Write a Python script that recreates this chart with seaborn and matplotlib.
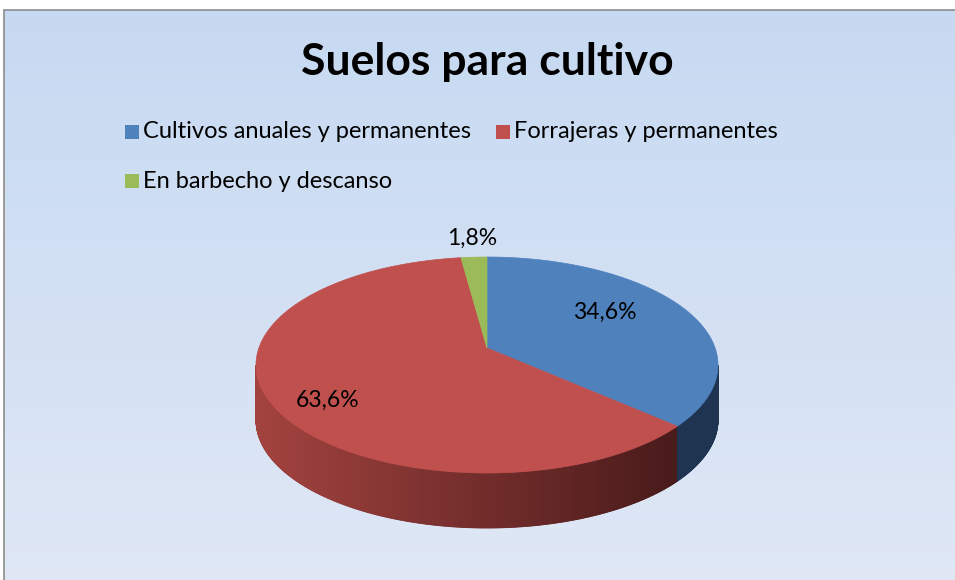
import numpy as np
import matplotlib
matplotlib.use("Agg")
import matplotlib.pyplot as plt
import seaborn as sns
from matplotlib.colors import to_rgb
from matplotlib.patches import Polygon, Rectangle

sns.set_style("white")
plt.rcParams['font.family'] = ['Lato', 'DejaVu Sans']
plt.rcParams['text.color'] = 'black'

# ---- data ----
categories = ["Cultivos anuales y permanentes", "Forrajeras y permanentes", "En barbecho y descanso"]
values = [34.6, 63.6, 1.8]
labels = ["34,6%", "63,6%", "1,8%"]
title = "Suelos para cultivo"

top_colors = ["#4f81bd", "#c0504d", "#9bbb59"]
side_left = ["#1e3450", "#a3433f", "#5f7a32"]
side_right = ["#1e3450", "#4a1b1b", "#3e5020"]

W, H = 955, 580
fig = plt.figure(figsize=(W / 100, H / 100), dpi=100)
fig.patch.set_facecolor("white")
ax = fig.add_axes([0, 0, 1, 1])
ax.set_xlim(0, W)
ax.set_ylim(H, 0)
ax.axis("off")

# background gradient as horizontal bands
c0 = np.array(to_rgb("#c6d9f1"))
c1 = np.array(to_rgb("#dfe7f5"))
ys = np.linspace(10, H + 2, 120)
for k in range(len(ys) - 1):
    f = k / (len(ys) - 2)
    col = c0 * (1 - f) + c1 * f
    ax.add_patch(Rectangle((4, ys[k]), W + 10, ys[k + 1] - ys[k] + 0.5,
                           facecolor=col, edgecolor="none", zorder=0))
ax.plot([4, 4], [10, H + 2], color="#8c8c8c", lw=1.2, zorder=1)
ax.plot([4, W + 2], [10, 10], color="#8c8c8c", lw=1.2, zorder=1)

# pie geometry
cx, cy, rx, ry, depth = 487, 365, 231, 108, 55
apex = (487, 348)

fr = np.array(values) / sum(values)
cum = np.concatenate([[0], np.cumsum(fr)])
starts = 90 - 360 * cum[:-1]
ends = 90 - 360 * cum[1:]

def pt(tdeg, dy=0):
    t = np.radians(tdeg)
    return cx + rx * np.cos(t), cy - ry * np.sin(t) + dy

def slice_of(tdeg):
    for i in range(len(values)):
        a, b = ends[i], starts[i]
        tt = tdeg
        while tt > b:
            tt -= 360
        while tt < a:
            tt += 360
        if a <= tt <= b:
            return i
    return 0

# side (front half: t in [-180, 0])
ts = np.linspace(-180, 0, 721)
for k in range(len(ts) - 1):
    t0, t1 = ts[k], ts[k + 1]
    i = slice_of((t0 + t1) / 2)
    x0, y0 = pt(t0)
    x1, y1 = pt(t1)
    f = np.clip((((x0 + x1) / 2) - (cx - rx)) / (0.9 * 2 * rx), 0, 1)
    col = np.array(to_rgb(side_left[i])) * (1 - f) + np.array(to_rgb(side_right[i])) * f
    poly = Polygon([(x0, y0), (x1, y1), (x1, y1 + depth), (x0, y0 + depth)],
                   closed=True, facecolor=col, edgecolor=col, lw=0.6, zorder=2)
    ax.add_patch(poly)

# top slices
for i in range(len(values)):
    tt = np.linspace(starts[i], ends[i], 200)
    pts = [apex] + [pt(t) for t in tt]
    ax.add_patch(Polygon(pts, closed=True, facecolor=top_colors[i],
                         edgecolor=top_colors[i], lw=0.5, zorder=3))

# labels
label_pos = [(605, 312), (328, 400), (472, 238)]
for (x, y), s in zip(label_pos, labels):
    ax.text(x, y, s, fontsize=16.5, ha="center", va="center", color="black", zorder=5)

# title
ax.text(487, 62, title, fontsize=32, fontweight="bold", ha="center", va="center",
        color="black", zorder=5)

# legend
leg_pos = [(125, 132), (496, 132), (125, 181)]
for (x, y), c, s in zip(leg_pos, top_colors, categories):
    ax.add_patch(Rectangle((x, y - 7), 14, 14, facecolor=c, edgecolor="none", zorder=5))
    ax.text(x + 18, y, s, fontsize=17, ha="left", va="center", color="black", zorder=5)

fig.savefig("out.png", dpi=100)
